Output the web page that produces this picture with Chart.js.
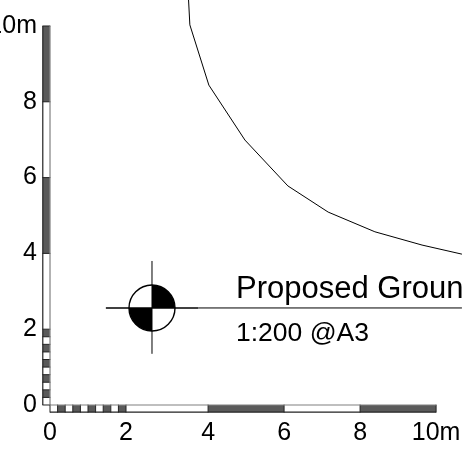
<!DOCTYPE html>
<html><head><meta charset="utf-8">
<style>html,body{margin:0;padding:0;background:#fff}canvas{display:block}</style>
<script src="https://cdn.jsdelivr.net/npm/chart.js@4"></script></head>
<body><canvas id="c" width="462" height="450"></canvas>
<script>
const xTickPositions=[0,2,4.16,6.16,8.16,10.16];
const yTickPositions=[0,2,4,6,8,10];
const tickLabels=['0','2','4','6','8','10m'];
const xBarStops=[0,.2,.4,.6,.8,1,1.2,1.4,1.6,1.8,2,4.16,6.16,8.16,10.16];
const yBarStops=[0,.2,.4,.6,.8,1,1.2,1.4,1.6,1.8,2,4,6,8,10];
const curveX=[3.63,3.68,4.18,5.13,6.26,7.32,8.55,9.79,10.84];
const curveY=[11,10.03,8.44,6.99,5.78,5.09,4.57,4.22,3.98];
const titleText='Proposed Ground';
const subtitleText='1:200 @A3';
const markerCentre=[2.684,2.56];
const textLeft=4.895;

const fillColour=c=>c.p0DataIndex%2?'#5a5a5a':'#ffffff';
const line=(xs,ys,colour,w)=>({data:xs.map((x,i)=>({x,y:ys[i]})),showLine:true,borderColor:colour,borderWidth:w,pointRadius:0,tension:0,borderCapStyle:'butt',borderJoinStyle:'round'});
const ribbon=(pts,rot)=>({data:pts,showLine:true,borderWidth:7,borderCapStyle:'butt',segment:{borderColor:fillColour},borderColor:'#fff',
  pointStyle:'line',pointRotation:rot,pointRadius:4,pointBorderColor:'#222',pointBorderWidth:1,tension:0});
const off=-.095, edge=.095;
const xEnd=xBarStops[xBarStops.length-1], yEnd=yBarStops[yBarStops.length-1];

const datasets=[
 line([xBarStops[0],xEnd],[off+edge,off+edge],'#808080',1.2),
 line([xBarStops[0],xEnd],[off-edge,off-edge],'#222',1.2),
 line([off+edge,off+edge],[yBarStops[0],yEnd],'#808080',1.2),
 line([off-edge,off-edge],[yBarStops[0],yEnd],'#222',1.2),
 ribbon(xBarStops.map(x=>({x,y:off})),90),
 ribbon(yBarStops.map(y=>({x:off,y})),0),
 line(curveX,curveY,'#000',1),
 line([1.47,3.9],[markerCentre[1],markerCentre[1]],'#000',1.4),
 line([3.9,10.84],[markerCentre[1],markerCentre[1]],'#000',1),
 line([markerCentre[0],markerCentre[0]],[1.35,3.8],'#000',1)
];

const marker={id:'marker',afterDatasetsDraw(ch){
  const {ctx,scales:{x,y}}=ch;
  const cx=x.getPixelForValue(markerCentre[0]),cy=y.getPixelForValue(markerCentre[1]),r=23;
  ctx.save();
  ctx.fillStyle='#000';
  [[-Math.PI/2,0],[Math.PI/2,Math.PI]].forEach(([a,b])=>{ctx.beginPath();ctx.moveTo(cx,cy);ctx.arc(cx,cy,r,a,b);ctx.closePath();ctx.fill();});
  ctx.beginPath();ctx.arc(cx,cy,r,0,Math.PI*2);ctx.lineWidth=1.4;ctx.strokeStyle='#000';ctx.stroke();
  ctx.textAlign='left';ctx.textBaseline='alphabetic';
  const tx=x.getPixelForValue(textLeft);
  ctx.font='31px "Liberation Sans"';ctx.fillText(titleText,tx,cy-10);
  ctx.font='26.5px "Liberation Sans"';ctx.fillText(subtitleText,tx,cy+33);
  ctx.restore();
}};

const flat=s=>{s.paddingLeft=s.paddingRight=s.paddingTop=s.paddingBottom=0;
  if(s._margins){s._margins.left=s._margins.right=s._margins.top=s._margins.bottom=0;}};
const axis=(min,max,positions)=>({type:'linear',min,max,
  afterBuildTicks:s=>{s.ticks=positions.map(value=>({value}));},
  grid:{display:false,drawTicks:false},border:{display:false},
  ticks:{color:'#000',font:{family:'"Liberation Sans"',size:25},autoSkip:false,maxRotation:0,minRotation:0,
    callback:(v,i)=>tickLabels[i]}});
const xAxis=axis(-.316,10.842,xTickPositions);
xAxis.afterFit=s=>{s.height=33;flat(s);};
xAxis.ticks.padding=1;
const yAxis=axis(-.317,10.686,yTickPositions);
yAxis.afterFit=s=>{s.width=38;flat(s);};
yAxis.ticks.padding=1;

new Chart(document.getElementById('c'),{type:'scatter',data:{datasets},plugins:[marker],
 options:{responsive:false,animation:false,devicePixelRatio:1,layout:{padding:0,autoPadding:false},
  plugins:{legend:{display:false},tooltip:{enabled:false},title:{display:false}},
  scales:{x:xAxis,y:yAxis}}});
</script></body></html>
